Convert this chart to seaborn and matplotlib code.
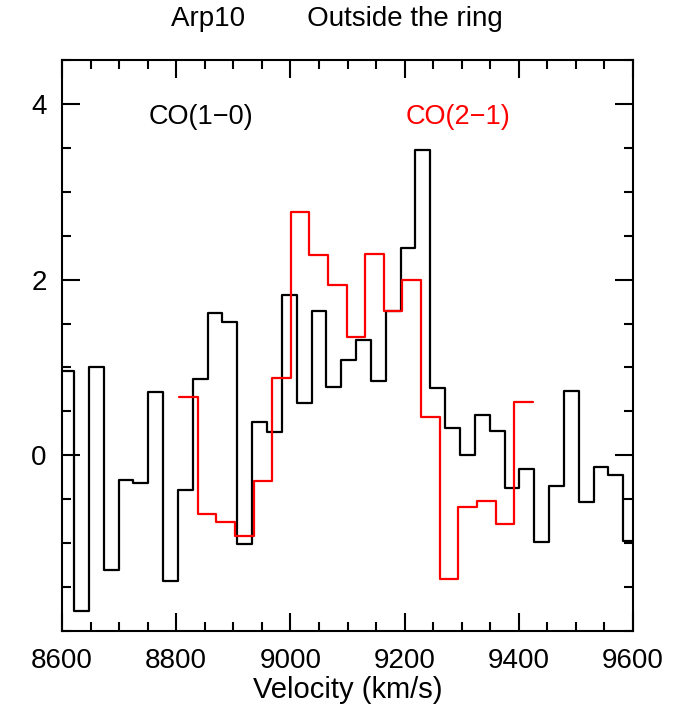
import matplotlib
matplotlib.use("Agg")
import matplotlib.pyplot as plt
from matplotlib.ticker import MultipleLocator
import seaborn as sns
import numpy as np
import pandas as pd

# CO(1-0) spectrum, channel centres (km/s) and values
co10_vel = 8608 + 26.0 * np.arange(39)
co10_flux = [0.955, -1.77, 1.00, -1.31, -0.28, -0.32, 0.72, -1.43, -0.39, 0.87,
             1.62, 1.52, -1.01, 0.375, 0.265, 1.82, 0.59, 1.64, 0.78, 1.09,
             1.31, 0.845, 1.64, 2.36, 3.48, 0.77, 0.31, 0.0, 0.46, 0.28,
             -0.375, -0.155, -0.985, -0.35, 0.727, -0.53, -0.13, -0.22, -0.98]
co10_dv = 26.0

# CO(2-1) spectrum
co21_vel = 8821.3 + 32.6 * np.arange(19)
co21_flux = [0.66, -0.667, -0.76, -0.917, -0.29, 0.88, 2.765, 2.28, 1.94, 1.345,
             2.295, 1.64, 1.99, 0.435, -1.41, -0.587, -0.52, -0.78, 0.606]
co21_dv = 32.6

y_labels = [0, 2, 4]

sns.set_theme(style="white")
plt.rcParams["font.family"] = ["Liberation Sans", "DejaVu Sans"]
plt.rcParams["axes.linewidth"] = 1.5
plt.rcParams["text.color"] = "black"
plt.rcParams["axes.labelcolor"] = "black"


def edges(vel, dv):
    return list(np.append(vel - dv / 2, vel[-1] + dv / 2))


co10 = pd.DataFrame({"vel": co10_vel, "flux": co10_flux})
co21 = pd.DataFrame({"vel": co21_vel, "flux": co21_flux})

fig = plt.figure(figsize=(6.78, 7.16), dpi=100)
ax = fig.add_axes([62 / 678, 1 - 631 / 716, 571 / 678, 571 / 716])

sns.histplot(data=co10, x="vel", weights="flux", bins=edges(co10_vel, co10_dv),
             element="step", fill=False, color="black", linewidth=1.6, ax=ax)
sns.histplot(data=co21, x="vel", weights="flux", bins=edges(co21_vel, co21_dv),
             element="step", fill=False, color="red", linewidth=1.6, ax=ax)

ax.set_xlim(8600, 9600)
ax.set_ylim(-2, 4.5)
ax.xaxis.set_major_locator(MultipleLocator(200))
ax.xaxis.set_minor_locator(MultipleLocator(50))
ax.set_yticks(y_labels)
ax.yaxis.set_minor_locator(MultipleLocator(0.5))
ax.tick_params(which="both", direction="in", top=True, right=True,
               bottom=True, left=True, width=1.5, colors="black", labelsize=20)
ax.tick_params(which="major", length=13)
ax.tick_params(which="minor", length=6.5)
ax.tick_params(axis="x", pad=12)
ax.tick_params(axis="y", pad=11)
for s in ax.spines.values():
    s.set_color("black")

ax.set_ylabel("")
ax.set_xlabel("Velocity (km/s)", fontsize=21, labelpad=2)

ax.text(0.152, 0.90, "CO(1\u22120)", transform=ax.transAxes, fontsize=19.5,
        color="black", va="center", ha="left")
ax.text(0.602, 0.90, "CO(2\u22121)", transform=ax.transAxes, fontsize=19.5,
        color="red", va="center", ha="left")

fig.text(337 / 678, 1 - 19 / 716, "Arp10        Outside the ring",
         fontsize=20, ha="center", va="center")

fig.savefig("out.png", dpi=100)
